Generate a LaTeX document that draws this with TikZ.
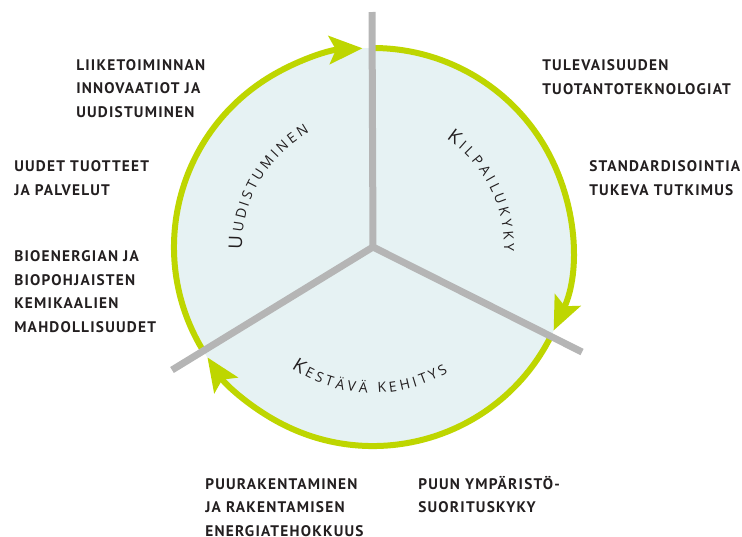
\documentclass[tikz,border=0pt]{standalone}
\usepackage{fontspec}
\setmainfont{PT Sans}
\newfontfamily\lblfont[LetterSpace=8]{PT Sans}
\newfontfamily\arcfont{Open Sans}
\usetikzlibrary{arrows.meta,decorations.text}
\definecolor{ringgreen}{RGB}{190,214,0}
\definecolor{discfill}{RGB}{230,242,243}
\definecolor{spokegray}{RGB}{181,181,181}
\definecolor{inktext}{RGB}{35,31,32}
\newcommand{\Bigcap}{\arcfont\fontsize{14}{14}\selectfont}
\newcommand{\Smallcap}{\arcfont\fontsize{10.5}{10.5}\selectfont}

\begin{document}
\begin{tikzpicture}[x=0.75pt,y=-0.75pt,
  lbl/.style={font=\lblfont\bfseries\fontsize{11.5}{17.6}\selectfont,text=inktext,align=left,anchor=base west,inner sep=0pt},
  ring/.style={draw=ringgreen,line width=4.5pt,-{Stealth[length=25pt,width=21pt,inset=5pt]}},
  spoke/.style={draw=spokegray,line width=5.25pt},
  arctitle/.style={font=\arcfont,decorate,decoration={text along path,text align=fit to path,text color=inktext,text={#1}}}]
\useasboundingbox (0,0) rectangle (742,536);
\coordinate (c) at (373,247);
\coordinate (top) at (372,12);
\coordinate (lr) at (582,352);
\coordinate (ll) at (172,370);
% disc and ring
\fill[discfill] (c) circle[radius=199];
\draw[ring] ([shift={(148:199)}]c) arc[start angle=148,end angle=267,radius=199];
\draw[ring] ([shift={(270:199)}]c) arc[start angle=270,end angle=384.8,radius=199];
\draw[ring] ([shift={(27:199)}]c) arc[start angle=27,end angle=146.3,radius=199];
% spokes
\draw[spoke] (top) -- (c) -- (lr);
\draw[spoke] (ll) -- (c);
% sector titles
\path[arctitle={|\Bigcap|U|\Smallcap|UDISTUMINEN}]
  ([shift={(179:131)}]c) arc[start angle=179,end angle=241,radius=131];
\path[arctitle={|\Bigcap|K|\Smallcap|ILPAILUKYKY}]
  ([shift={(-56:131)}]c) arc[start angle=-56,end angle=2,radius=131];
\path[arctitle={|\Bigcap|K|\Smallcap|ESTÄVÄ KEHITYS}]
  ([shift={(124:146)}]c) arc[start angle=124,end angle=59,radius=146];
% labels (anchored at the last baseline)
\node (liike) [lbl] at (76,117) {LIIKETOIMINNAN\\INNOVAATIOT JA\\UUDISTUMINEN};
\node (uudet) [lbl] at (14,195) {UUDET TUOTTEET\\JA PALVELUT};
\node (bio) [lbl] at (14,332) {BIOENERGIAN JA\\BIOPOHJAISTEN\\KEMIKAALIEN\\MAHDOLLISUUDET};
\node (tuleva) [lbl] at (542,94) {TULEVAISUUDEN\\TUOTANTOTEKNOLOGIAT};
\node (standard) [lbl] at (589,195) {STANDARDISOINTIA\\TUKEVA TUTKIMUS};
\node (puura) [lbl] at (205,536) {PUURAKENTAMINEN\\JA RAKENTAMISEN\\ENERGIATEHOKKUUS};
\node (puun) [lbl] at (418,512.5) {PUUN YMPÄRISTÖ-\\SUORITUSKYKY};
\end{tikzpicture}
\end{document}
